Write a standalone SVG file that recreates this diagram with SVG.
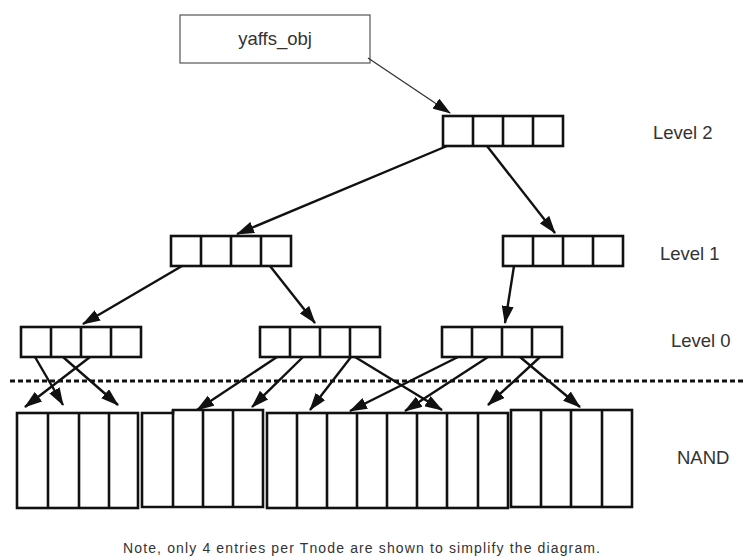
<svg xmlns="http://www.w3.org/2000/svg" width="743" height="559" viewBox="0 0 743 559">
<style>
.bg{fill:#fff}
.box{fill:#fff;stroke:#111;stroke-width:2.6}
.cell{stroke:#111;stroke-width:2.6;fill:none}
.obj{fill:#fff;stroke:#555;stroke-width:1.2}
.lbl{font-family:"Liberation Sans",Arial,sans-serif;font-size:18.5px;fill:#333}
.note{font-family:"Liberation Sans",Arial,sans-serif;font-size:14px;fill:#333}
.arr{stroke:#111;stroke-width:2.4;fill:none;marker-end:url(#ah)}
.thin{stroke:#333;stroke-width:1.3;fill:none;marker-end:url(#ah)}
.dot{stroke:#111;stroke-width:3;stroke-dasharray:5 3;fill:none}
</style>
<defs>
<marker id="ah" markerUnits="userSpaceOnUse" markerWidth="18" markerHeight="12" refX="17" refY="6" orient="auto">
<path d="M0,0 L18,6 L0,12 z" fill="#111"/>
</marker>
</defs>
<rect class="bg" x="0" y="0" width="743" height="559"/>

<g id="yaffs_obj">
<rect class="obj" x="180" y="15" width="190" height="48"/>
<text class="lbl" x="275" y="45" text-anchor="middle">yaffs_obj</text>
</g>

<g id="tnode_l2">
<rect class="box" x="443" y="116" width="120" height="30"/>
<path class="cell" d="M473,116V146M503,116V146M533,116V146"/>
</g>

<g id="tnode_l1_left">
<rect class="box" x="171" y="236" width="120" height="30"/>
<path class="cell" d="M201,236V266M231,236V266M261,236V266"/>
</g>
<g id="tnode_l1_right">
<rect class="box" x="503" y="236" width="120" height="30"/>
<path class="cell" d="M533,236V266M563,236V266M593,236V266"/>
</g>

<g id="tnode_l0_left">
<rect class="box" x="21" y="327" width="120" height="30"/>
<path class="cell" d="M51,327V357M81,327V357M111,327V357"/>
</g>
<g id="tnode_l0_mid">
<rect class="box" x="260" y="327" width="120" height="30"/>
<path class="cell" d="M290,327V357M320,327V357M350,327V357"/>
</g>
<g id="tnode_l0_right">
<rect class="box" x="442" y="327" width="120" height="30"/>
<path class="cell" d="M472,327V357M502,327V357M532,327V357"/>
</g>

<g id="nand_1">
<rect class="box" x="17" y="413" width="121" height="95"/>
<path class="cell" d="M48,413V508M79,413V508M109,413V508"/>
</g>
<g id="nand_2">
<path class="box" d="M142,413H173V410H263V507H142Z"/>
<path class="cell" d="M173,410V507M203,410V507M233,410V507"/>
</g>
<g id="nand_3">
<rect class="box" x="267" y="413" width="241" height="95"/>
<path class="cell" d="M297,413V508M327,413V508M357,413V508M387,413V508M417,413V508M447,413V508M478,413V508"/>
</g>
<g id="nand_4">
<rect class="box" x="511" y="410" width="121" height="97"/>
<path class="cell" d="M541,410V507M571,410V507M602,410V507"/>
</g>

<g id="labels">
<text class="lbl" x="653" y="139">Level 2</text>
<text class="lbl" x="660" y="260">Level 1</text>
<text class="lbl" x="671" y="347">Level 0</text>
<text class="lbl" x="677" y="464">NAND</text>
<text class="note" x="123" y="553" textLength="477" lengthAdjust="spacing">Note, only 4 entries per Tnode are shown to simplify the diagram.</text>
</g>

<line class="dot" x1="10" y1="381" x2="743" y2="381"/>

<g id="connectors">
<line class="thin" x1="368" y1="58" x2="450" y2="113"/>
<line class="arr" x1="447" y1="146" x2="237" y2="234"/>
<line class="arr" x1="487" y1="146" x2="555" y2="233"/>
<line class="arr" x1="182" y1="266" x2="83" y2="324"/>
<line class="arr" x1="270" y1="266" x2="315" y2="323"/>
<line class="arr" x1="514" y1="266" x2="505" y2="323"/>

<line class="arr" x1="35" y1="357" x2="63" y2="405"/>
<line class="arr" x1="90" y1="357" x2="25" y2="407"/>
<line class="arr" x1="63" y1="357" x2="118" y2="405"/>

<line class="arr" x1="277" y1="357" x2="197" y2="410"/>
<line class="arr" x1="303" y1="357" x2="252" y2="407"/>
<line class="arr" x1="351" y1="357" x2="310" y2="410"/>
<line class="arr" x1="355" y1="357" x2="442" y2="410"/>

<line class="arr" x1="458" y1="357" x2="350" y2="411"/>
<line class="arr" x1="488" y1="357" x2="405" y2="411"/>
<line class="arr" x1="540" y1="357" x2="488" y2="405"/>
<line class="arr" x1="520" y1="357" x2="580" y2="407"/>
</g>
</svg>
